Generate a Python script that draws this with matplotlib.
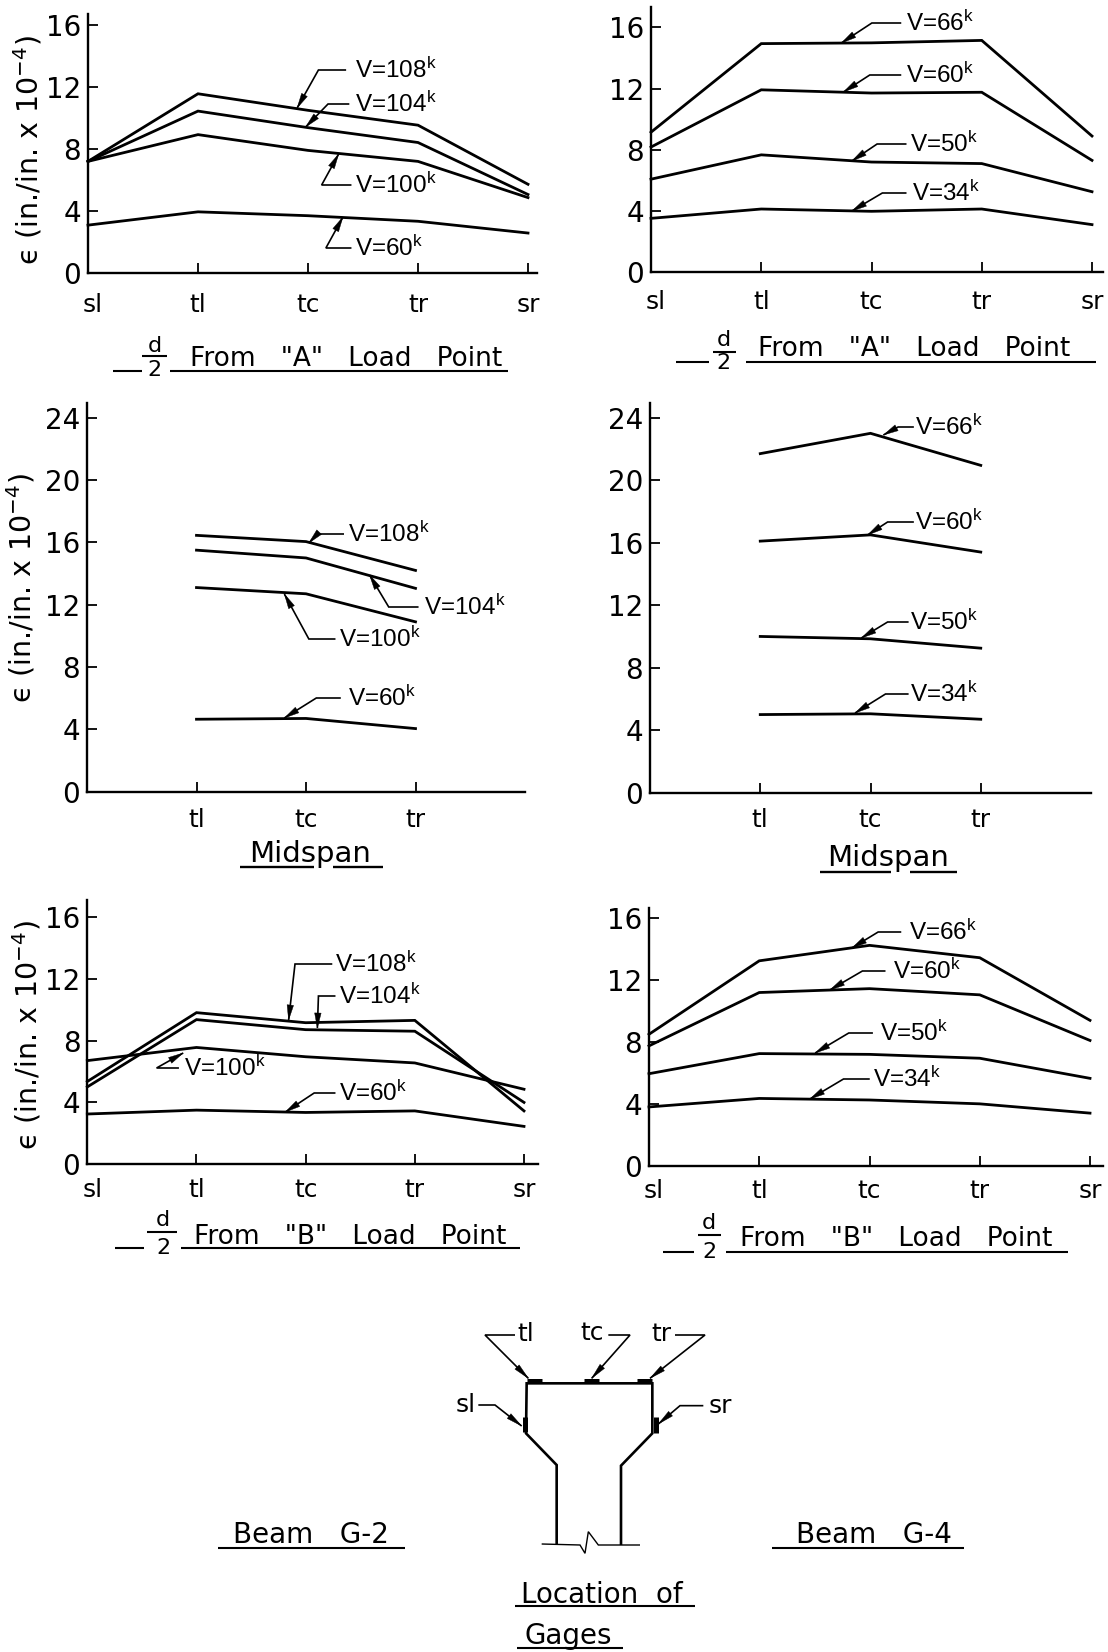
import matplotlib
matplotlib.use("Agg")
import matplotlib.pyplot as plt
from matplotlib.patches import Polygon
from matplotlib.transforms import ScaledTranslation
import numpy as np

plt.rcParams['font.family'] = ['DejaVu Sans']
plt.rcParams['mathtext.default'] = 'regular'

W, H = 1108, 1652
categories = ['sl', 'tl', 'tc', 'tr', 'sr']
mid_categories = ['tl', 'tc', 'tr']
yticks_short = [0, 4, 8, 12, 16]
yticks_tall = [0, 4, 8, 12, 16, 20, 24]

# Strain values (x 10^-4 in./in.)
a_g2_108 = [7.18, 11.55, 10.48, 9.52, 5.70]
a_g2_104 = [7.18, 10.43, 9.36, 8.40, 5.04]
a_g2_100 = [7.18, 8.91, 7.89, 7.18, 4.84]
a_g2_60 = [3.06, 3.92, 3.67, 3.31, 2.55]

a_g4_66 = [9.15, 14.94, 14.99, 15.15, 8.90]
a_g4_60 = [8.18, 11.92, 11.71, 11.76, 7.31]
a_g4_50 = [6.08, 7.67, 7.20, 7.10, 5.26]
a_g4_34 = [3.52, 4.13, 3.98, 4.13, 3.11]

m_g2_108 = [16.45, 16.05, 14.2]
m_g2_104 = [15.5, 15.0, 13.05]
m_g2_100 = [13.1, 12.7, 10.9]
m_g2_60 = [4.65, 4.7, 4.05]

m_g4_66 = [21.7, 23.0, 20.95]
m_g4_60 = [16.1, 16.5, 15.4]
m_g4_50 = [10.0, 9.85, 9.25]
m_g4_34 = [5.0, 5.05, 4.7]

b_g2_108 = [5.35, 9.8, 9.15, 9.3, 3.45]
b_g2_104 = [5.0, 9.35, 8.7, 8.6, 4.0]
b_g2_100 = [6.7, 7.55, 6.95, 6.55, 4.85]
b_g2_60 = [3.25, 3.5, 3.35, 3.45, 2.45]

b_g4_66 = [8.5, 13.25, 14.25, 13.45, 9.4]
b_g4_60 = [7.75, 11.2, 11.45, 11.05, 8.1]
b_g4_50 = [5.95, 7.25, 7.2, 6.95, 5.65]
b_g4_34 = [3.8, 4.35, 4.25, 4.0, 3.4]

fig = plt.figure(figsize=(W / 100, H / 100), dpi=100, facecolor='white')
ov = fig.add_axes([0, 0, 1, 1], zorder=5)
ov.set_xlim(0, W)
ov.set_ylim(H, 0)
ov.axis('off')
ov.patch.set_alpha(0)

LW = 2.0


def panel(x0, x_sr, x_end, y0, y16, top, series, pad, tall=False):
    unit = (y0 - y16) / 16 if not tall else (y0 - y16) / 24
    ax = fig.add_axes([x0 / W, 1 - y0 / H, (x_end - x0) / W, (y0 - top) / H])
    ax.set_xlim(0, 4 * (x_end - x0) / (x_sr - x0))
    ax.set_ylim(0, (y0 - top) / unit)
    ax.patch.set_alpha(0)
    for s in ('top', 'right'):
        ax.spines[s].set_visible(False)
    for s in ('left', 'bottom'):
        ax.spines[s].set_linewidth(1.7)
    ax.set_yticks(yticks_tall if tall else yticks_short)
    ax.tick_params(axis='y', direction='in', length=7, width=1.3, pad=5, labelsize=20)
    if tall:
        ax.set_xticks([1, 2, 3], mid_categories)
    else:
        ax.set_xticks([0, 1, 2, 3, 4], categories)
    ax.tick_params(axis='x', direction='in', length=7, width=1.3, pad=pad, labelsize=18)
    for s in series:
        xs = [1, 2, 3] if tall else [0, 1, 2, 3, 4]
        ax.plot(xs, s, color='black', lw=LW, solid_joinstyle='miter', clip_on=False)
    if not tall:
        lab = ax.get_xticklabels()[0]
        lab.set_transform(lab.get_transform() + ScaledTranslation(0.05, 0, fig.dpi_scale_trans))
    return ax


panel(88, 528, 537, 272.5, 24.9, 14, [a_g2_108, a_g2_104, a_g2_100, a_g2_60], 15)
panel(651, 1092, 1103, 272.2, 27.4, 7, [a_g4_66, a_g4_60, a_g4_50, a_g4_34], 13)
panel(87, 525, 525, 791.7, 417.7, 403, [m_g2_108, m_g2_104, m_g2_100, m_g2_60], 12, tall=True)
panel(650, 1091, 1091, 792.7, 417.7, 403, [m_g4_66, m_g4_60, m_g4_50, m_g4_34], 11, tall=True)
panel(87.3, 524, 538, 1164.3, 916.7, 900, [b_g2_108, b_g2_104, b_g2_100, b_g2_60], 10)
panel(649, 1090, 1103, 1165.7, 918.3, 908, [b_g4_66, b_g4_60, b_g4_50, b_g4_34], 9.5)


def left(x):
    return x * 1.065


def right(x):
    return 560 + (x - 560) * 1.05


def line(pts, lw=1.2):
    xs, ys = zip(*pts)
    ov.plot(xs, ys, color='black', lw=lw, solid_joinstyle='miter', solid_capstyle='butt')


def head(frm, tip, length=15, width=6.5):
    a, b = np.array(frm, float), np.array(tip, float)
    d = (b - a) / np.hypot(*(b - a))
    n = np.array([-d[1], d[0]])
    base = b - d * length
    ov.add_patch(Polygon([b, base + n * width / 2, base - n * width / 2], closed=True,
                         fc='black', ec='black', lw=0.3))


def label(col, text, x, y, lx, kx, tip):
    tp = (col(tip[0]), tip[1])
    ov.text(col(x), y, text + '$^{k}$', fontsize=17.5, family='Liberation Sans', ha='left', va='center')
    line([(col(lx), y), (col(kx), y), tp])
    head((col(kx), y), tp)


# label layout in pixels: text, text x, text y, leader start x, knee x, arrow tip
label(left, 'V=108', 333, 70, 325, 299, (279, 108))
label(left, 'V=104', 333, 104, 328, 308, (287, 127))
label(left, 'V=100', 333, 185, 330, 302, (318, 154))
label(left, 'V=60', 333, 248, 330, 306, (322, 217))

label(right, 'V=66', 890, 23, 885, 857, (828, 43))
label(right, 'V=60', 890, 75, 885, 855, (830, 92))
label(right, 'V=50', 893, 144, 890, 862, (838, 161))
label(right, 'V=34', 895, 193, 890, 867, (838, 211))

label(left, 'V=108', 327, 534, 323, 298, (290, 543))
label(left, 'V=104', 398, 607, 393, 365, (347, 575))
label(left, 'V=100', 318, 639, 315, 290, (267, 594))
label(left, 'V=60', 327, 698, 320, 297, (267, 718))

label(right, 'V=66', 898, 427, 897, 882, (868, 435))
label(right, 'V=60', 898, 522, 897, 872, (853, 535))
label(right, 'V=50', 893, 622, 892, 872, (847, 638))
label(right, 'V=34', 893, 694, 892, 870, (841, 713))

label(left, 'V=108', 315, 964, 312, 277, (271, 1020))
label(left, 'V=104', 318, 996, 315, 299, (298, 1028))
label(left, 'V=100', 173, 1068, 168, 147, (172, 1053))
label(left, 'V=60', 318, 1093, 315, 295, (268, 1112))

label(right, 'V=66', 892, 932, 885, 863, (838, 948))
label(right, 'V=60', 877, 971, 870, 848, (817, 990))
label(right, 'V=50', 865, 1033, 858, 835, (803, 1053))
label(right, 'V=34', 858, 1079, 855, 830, (798, 1099))

# y axis captions
for x, y, fs in [(28, 150, 20.5), (21, 588, 20.5), (27, 1035, 20.5)]:
    ov.text(x, y, '\u03f5 (in./in. x 10$^{-4}$)', rotation=90, fontsize=fs,
            ha='center', va='center')


def caption(text, cx, cy, fs=19):
    ov.text(cx, cy, text, fontsize=fs, ha='center', va='center')


def d2(col, dx, dy, twoy, bar, dash, under, uy, barw=1.5):
    ov.text(col(dx), dy, 'd', fontsize=16, ha='center', va='center')
    ov.text(col(dx), twoy, '2', fontsize=16, ha='center', va='center')
    line([(col(bar[0]), bar[2]), (col(bar[1]), bar[2])], lw=barw)
    line([(col(dash[0]), uy), (col(dash[1]), uy)], lw=barw)
    line([(col(under[0]), uy), (col(under[1]), uy)], lw=barw)


caption('From   "A"   Load   Point', left(325), 359)
d2(left, 145, 346, 370, (133, 157, 356), (106, 133), (160, 477), 371)
caption('From   "A"   Load   Point', right(897), 349)
d2(right, 716, 340, 363, (706, 728, 352), (670, 702), (737, 1070), 362)
caption('From   "B"   Load   Point', left(329), 1237)
d2(left, 153, 1220, 1248, (138, 166, 1232), (108, 135), (170, 488), 1248)
caption('From   "B"   Load   Point', right(880), 1239)
d2(right, 702, 1223, 1252, (691, 713, 1235), (658, 688), (718, 1044), 1252)

caption('Midspan', left(291), 854, fs=21)
line([(left(225), 867), (left(295), 867)], lw=1.7)
line([(left(313), 867), (left(360), 867)], lw=1.7)
caption('Midspan', right(872), 858, fs=21)
line([(right(808), 872), (right(875), 872)], lw=1.7)
line([(right(893), 872), (right(938), 872)], lw=1.7)

caption('Beam   G-2', 311, 1535, fs=20)
line([(218, 1548), (405, 1548)], lw=1.5)
caption('Beam   G-4', 874, 1535, fs=20)
line([(772, 1548), (964, 1548)], lw=1.5)
caption('Location  of', 602, 1595, fs=20)
line([(515, 1606), (695, 1606)], lw=1.5)
caption('Gages', 568, 1636, fs=20)
line([(517, 1648), (623, 1648)], lw=1.5)


# beam section, in crop coordinates of the location sketch
def z(x, y):
    return (420 + x / 3, 1300 + y / 3)


def zl(pts, lw=1.2):
    line([z(*p) for p in pts], lw=lw)


zl([(410, 735), (410, 495), (318, 400), (320, 250), (697, 250), (697, 400), (603, 497), (603, 735)], lw=1.9)
zl([(365, 732), (480, 735), (495, 760), (505, 695), (535, 735), (660, 735)], lw=1.0)
for seg in [[(320, 243), (365, 243)], [(492, 243), (537, 243)], [(652, 243), (695, 243)],
            [(315, 350), (315, 395)], [(708, 350), (708, 398)]]:
    zl(seg, lw=3.6)
for pts in [[(285, 105), (195, 105), (325, 235)], [(565, 105), (630, 105), (515, 235)],
            [(765, 105), (855, 105), (690, 235)], [(175, 315), (225, 315), (305, 378)],
            [(850, 317), (780, 317), (715, 372)]]:
    zl(pts)
    head(z(*pts[1]), z(*pts[2]), length=16, width=6)
for t, x, y in [('tl', 318, 102), ('tc', 515, 100), ('tr', 725, 102), ('sl', 138, 315), ('sr', 900, 317)]:
    px, py = z(x, y)
    ov.text(px, py, t, fontsize=18, ha='center', va='center')

fig.savefig('out.png', dpi=100)
